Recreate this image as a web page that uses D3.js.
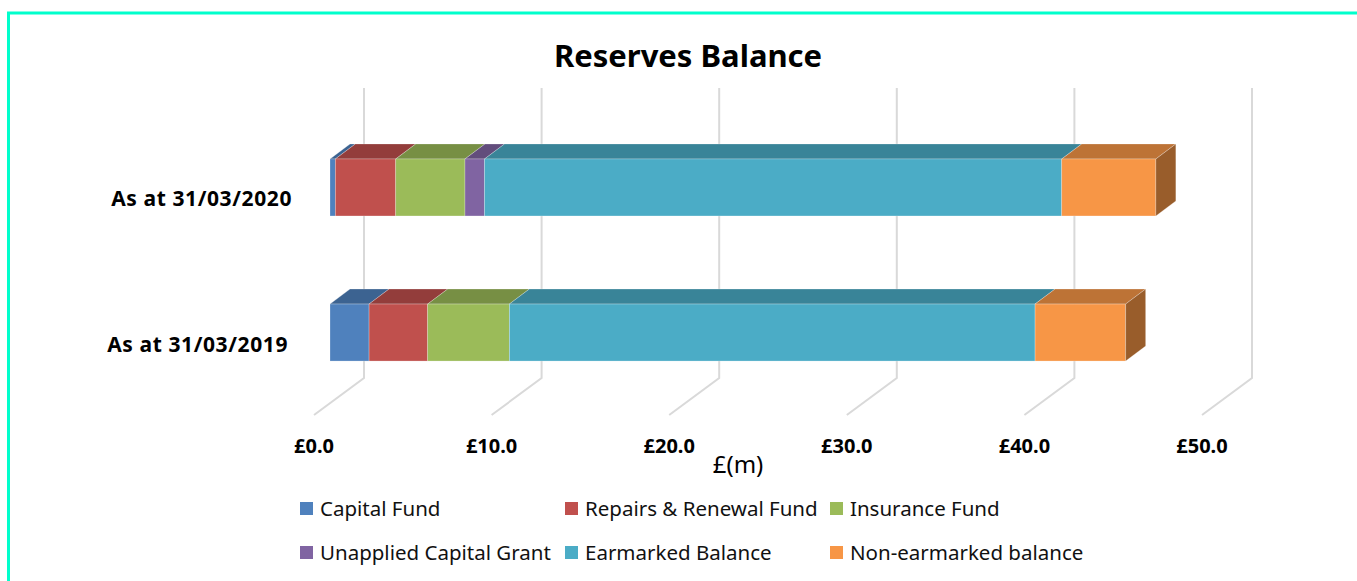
<!DOCTYPE html>
<html>
<head>
<meta charset="utf-8">
<script src="https://cdn.jsdelivr.net/npm/d3@7"></script>
<style>
  body { margin: 0; background: #fff; }
  svg { display: block; font-family: 'Noto Sans', 'Open Sans', sans-serif; }
</style>
</head>
<body>
<div id="chart"></div>
<script>
// values, £m
const categories = ['As at 31/03/2020', 'As at 31/03/2019']
const seriesNames = ['Capital Fund', 'Repairs & Renewal Fund', 'Insurance Fund',
  'Unapplied Capital Grant', 'Earmarked Balance', 'Non-earmarked balance']
const values2020 = [0.3, 3.4, 3.9, 1.1, 32.5, 5.3]
const values2019 = [2.2, 3.3, 4.6, 0.0, 29.6, 5.1]
const tickValues = [0, 10, 20, 30, 40, 50]
const colors = ['#4F81BD', '#C0504D', '#9BBB59', '#8064A2', '#4BACC6', '#F79646']

const W = 1357, H = 581
// 3d offsets
const depthX = 20, depthY = 15
const wallShift = 34, floorShift = -16

function drawCanvas() {
  let svg = d3.select('#chart')
    .append('svg')
    .attr('width', W)
    .attr('height', H)

  // frame round the chart
  svg.append('path')
    .attr('d', `M8.5,${H} L8.5,13 L${W},13`)
    .attr('fill', 'none')
    .attr('stroke', '#00FFCC')
    .attr('stroke-width', 3)

  svg.append('text')
    .attr('x', 688)
    .attr('y', 67)
    .attr('text-anchor', 'middle')
    .attr('font-weight', 'bold')
    .attr('font-size', 31)
    .text('Reserves Balance')

  let x = d3.scaleLinear()
    .domain([0, 50])
    .range([330, 1218])

  let y = d3.scaleBand()
    .domain(categories)
    .range([115, 405])
    .paddingInner(0.607)
    .paddingOuter(0.303)

  // back wall gridlines + floor
  svg.append('g')
    .selectAll('path')
    .data(tickValues)
    .enter()
    .append('path')
    .attr('d', d => {
      let xb = x(d) + wallShift
      return `M${xb},88 L${xb},378 L${x(d) + floorShift},415`
    })
    .attr('fill', 'none')
    .attr('stroke', '#D9D9D9')
    .attr('stroke-width', 2)

  svg.append('g')
    .selectAll('text')
    .data(tickValues)
    .enter()
    .append('text')
    .attr('x', d => x(d) + floorShift)
    .attr('y', 453)
    .attr('text-anchor', 'middle')
    .attr('font-weight', 'bold')
    .attr('font-size', 20)
    .text(d => '£' + d3.format('.1f')(d))

  svg.append('text')
    .attr('x', 738)
    .attr('y', 473)
    .attr('text-anchor', 'middle')
    .attr('font-size', 24)
    .text('£(m)')

  // stacked bars
  let rows = [values2020, values2019]
  rows.forEach((vals, i) => {
    let cat = categories[i]
    let y0 = y(cat), y1 = y(cat) + y.bandwidth()
    let start = 0
    let segs = vals.map((v, j) => {
      let s = {x0: start, x1: start + v, color: colors[j]}
      start += v
      return s
    }).filter(s => s.x1 > s.x0)

    let g = svg.append('g')
    segs.forEach((s, j) => {
      let a = x(s.x0), b = x(s.x1)
      let c = d3.color(s.color)
      // top face
      g.append('path')
        .attr('d', `M${a},${y0} L${a + depthX},${y0 - depthY} L${b + depthX},${y0 - depthY} L${b},${y0} Z`)
        .attr('fill', c.darker(0.75))
        .attr('stroke', 'rgba(255,255,255,0.35)')
        .attr('stroke-width', 0.7)
      // front face
      g.append('rect')
        .attr('x', a)
        .attr('y', y0)
        .attr('width', b - a)
        .attr('height', y1 - y0)
        .attr('fill', c)
        .attr('stroke', 'rgba(255,255,255,0.35)')
        .attr('stroke-width', 0.7)
      // side face, only visible on the last one
      if (j === segs.length - 1) {
        g.append('path')
          .attr('d', `M${b},${y0} L${b + depthX},${y0 - depthY} L${b + depthX},${y1 - depthY} L${b},${y1} Z`)
          .attr('fill', c.darker(1.35))
          .attr('stroke', 'rgba(255,255,255,0.35)')
          .attr('stroke-width', 0.7)
      }
    })

    svg.append('text')
      .attr('x', 292 - (i * 4))
      .attr('y', y0 + y.bandwidth() / 2 + 19)
      .attr('text-anchor', 'end')
      .attr('font-weight', 'bold')
      .attr('font-size', 21)
      .attr('letter-spacing', 0.6)
      .text(cat)
  })

  // legend, 3 per row
  let legend = svg.append('g')
    .selectAll('g')
    .data(seriesNames)
    .enter()
    .append('g')
    .attr('transform', (d, i) => {
      let col = i % 3, row = Math.floor(i / 3)
      return `translate(${[300, 565, 830][col]},${502 + row * 44})`
    })

  legend.append('rect')
    .attr('width', 13)
    .attr('height', 13)
    .attr('fill', (d, i) => colors[i])

  legend.append('text')
    .attr('x', 20)
    .attr('y', 14)
    .attr('font-size', 20.5)
    .attr('fill', '#111')
    .text(d => d)
}

drawCanvas()
</script>
</body>
</html>
